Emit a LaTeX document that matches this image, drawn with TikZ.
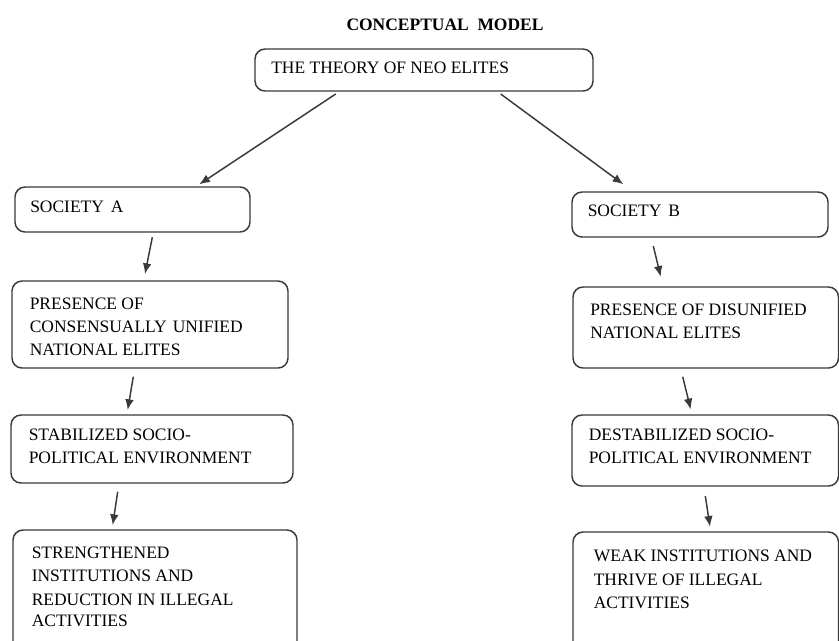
\documentclass[tikz,border=0pt]{standalone}
\usepackage{fontspec}
\setmainfont{Liberation Serif}
\usetikzlibrary{arrows.meta,fit}
\definecolor{edge}{HTML}{3A3A3A}
\tikzset{
  boxnode/.style={draw=edge, line width=1.1pt, rounded corners=7.5pt, inner sep=0pt},
  txt/.style={anchor=base west, inner sep=0pt, font=\fontsize{13.1}{17.5}\selectfont, text=black},
  ttl/.style={anchor=base, inner sep=0pt, font=\fontsize{13.1}{17.5}\selectfont\bfseries, text=black},
  arr/.style={draw=edge, line width=1.1pt, -{Latex[length=8pt,width=6.5pt]}}
}
\begin{document}
\begin{tikzpicture}[x=0.75pt,y=-0.75pt]
\useasboundingbox (0,0) rectangle (839,640);
\clip (0,0) rectangle (839,640);
\fill[white] (0,0) rectangle (839,640);

% corner coordinates of the boxes
\coordinate (topA) at (255,49);  \coordinate (topB) at (593,91);
\coordinate (saA) at (15,187);   \coordinate (saB) at (250,232);
\coordinate (sbA) at (572,192);  \coordinate (sbB) at (828,237);
\coordinate (paA) at (12,281);   \coordinate (paB) at (288,368);
\coordinate (pbA) at (573,287);  \coordinate (pbB) at (838.5,368);
\coordinate (stA) at (11,415);   \coordinate (stB) at (293,483);
\coordinate (dsA) at (572,415);  \coordinate (dsB) at (838.5,486);
\coordinate (srA) at (13,530);   \coordinate (srB) at (297,660);
\coordinate (wkA) at (573,532);  \coordinate (wkB) at (838.5,660);

\node[boxnode, fit=(topA)(topB)] (top) {};
\node[boxnode, fit=(saA)(saB)] (sa) {};
\node[boxnode, fit=(sbA)(sbB)] (sb) {};
\node[boxnode, fit=(paA)(paB)] (pa) {};
\node[boxnode, fit=(pbA)(pbB)] (pb) {};
\node[boxnode, fit=(stA)(stB)] (st) {};
\node[boxnode, fit=(dsA)(dsB)] (ds) {};
\node[boxnode, fit=(srA)(srB)] (sr) {};
\node[boxnode, fit=(wkA)(wkB)] (wk) {};

% texts
\node[ttl] (title) at (445,30) {CONCEPTUAL\ \ MODEL};
\node[txt] (ttop) at (271,73.5) {THE THEORY OF NEO ELITES};
\node[txt] (tsa) at (30,212.5) {SOCIETY\hspace{0.15em} A};
\node[txt] (tsb) at (587.5,216.7) {SOCIETY\hspace{0.15em} B};
\node[txt] (tpa1) at (29.5,309) {PRESENCE OF};
\node[txt] (tpa2) at (29.5,332.5) {CONSENSUALLY\hspace{0.1em} UNIFIED};
\node[txt] (tpa3) at (29.5,355) {NATIONAL ELITES};
\node[txt] (tpb1) at (590,315) {PRESENCE OF DISUNIFIED};
\node[txt] (tpb2) at (590,338.3) {NATIONAL ELITES};
\node[txt] (tst1) at (28.5,440) {STABILIZED SOCIO-};
\node[txt] (tst2) at (28.5,463.3) {POLITICAL ENVIRONMENT};
\node[txt] (tds1) at (588.5,440) {DESTABILIZED SOCIO-};
\node[txt] (tds2) at (588.5,463.3) {POLITICAL ENVIRONMENT};
\node[txt] (tsr1) at (31.5,558.3) {STRENGTHENED};
\node[txt] (tsr2) at (31.5,581.7) {INSTITUTIONS AND};
\node[txt] (tsr3) at (31.5,605) {REDUCTION IN ILLEGAL};
\node[txt] (tsr4) at (31.5,626.7) {ACTIVITIES};
\node[txt] (twk1) at (593.5,561.7) {WEAK INSTITUTIONS AND};
\node[txt] (twk2) at (593.5,585) {THRIVE OF ILLEGAL};
\node[txt] (twk3) at (593.5,608.3) {ACTIVITIES};

% arrow end points
\coordinate (a1s) at (335.7,94);  \coordinate (a1e) at (199.3,184.3);
\coordinate (a2s) at (500.7,94);  \coordinate (a2e) at (623.3,184.3);
\coordinate (a3s) at (152.3,237.3); \coordinate (a3e) at (145,274);
\coordinate (a4s) at (653.3,246); \coordinate (a4e) at (660.7,276.7);
\coordinate (a5s) at (133.3,376.7); \coordinate (a5e) at (127.7,410);
\coordinate (a6s) at (682.7,376.7); \coordinate (a6e) at (690.7,409.3);
\coordinate (a7s) at (117.7,491.7); \coordinate (a7e) at (112.7,525);
\coordinate (a8s) at (705.3,496); \coordinate (a8e) at (710,526.7);

\draw[arr] (a1s) -- (a1e);
\draw[arr] (a2s) -- (a2e);
\draw[arr] (a3s) -- (a3e);
\draw[arr] (a4s) -- (a4e);
\draw[arr] (a5s) -- (a5e);
\draw[arr] (a6s) -- (a6e);
\draw[arr] (a7s) -- (a7e);
\draw[arr] (a8s) -- (a8e);
\end{tikzpicture}
\end{document}
